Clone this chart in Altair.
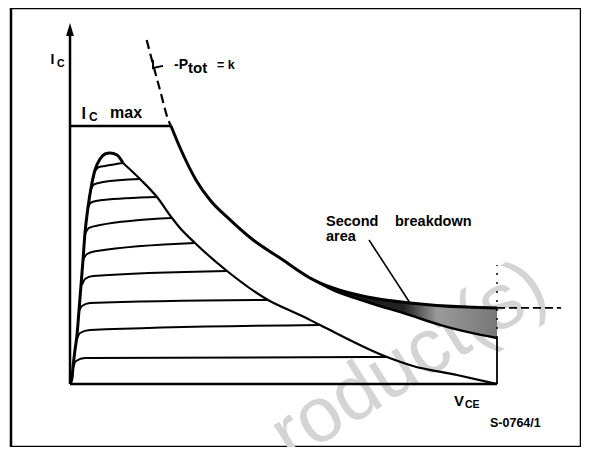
import altair as alt
import pandas as pd

# Schematic units: V_CE axis end = 100, I_C max = 100
# Power-dissipation limit (P_tot = k), solid part
ptot_v = [23.65, 26.0, 29.5, 32.8, 37.5, 42.9, 49.2, 56.2, 61.6, 69.6, 79.6, 93.0, 100.0]
ptot_i = [100.0, 90.7, 79.1, 71.3, 63.6, 55.8, 48.8, 41.1, 37.2, 33.7, 31.4, 29.8, 29.5]
# P_tot = k continued above I_C max (dashed)
ptot_ext_v = [17.96, 19.37, 21.08, 23.02, 23.65]
ptot_ext_i = [133.3, 124.4, 113.95, 102.3, 100.0]
# second breakdown band
sb_v = [56.2, 61.6, 69.6, 79.6, 86.65, 93.0, 100.0]
sb_upper = [41.1, 37.2, 33.7, 31.4, 30.5, 29.8, 29.5]
sb_lower = [41.1, 36.4, 31.8, 26.7, 22.9, 20.2, 17.8]
# left (saturation) envelope up to the peak
env_left_v = [0, 0.47, 0.70, 1.17, 1.64, 2.11, 2.58, 3.04, 3.51, 4.22, 4.92, 5.85, 7.03, 8.20, 9.37, 11.0, 12.41]
env_left_i = [0, 2.33, 6.59, 13.18, 18.99, 28.68, 38.37, 48.06, 58.53, 68.60, 75.97, 82.95, 87.21, 89.15, 89.53, 88.76, 85.66]
# right envelope of the output characteristics
env_right_v = [12.41, 16.39, 20.37, 23.89, 25.76, 29.27, 36.77, 46.37, 53.86, 58.55, 74.24, 80.33, 90.63, 100.0]
env_right_i = [85.66, 79.46, 72.48, 64.34, 60.47, 54.65, 43.80, 32.56, 26.74, 22.87, 10.47, 6.98, 3.49, 0.0]
# output characteristics (one list per base current)
char_v = [
    [5.85, 6.56, 8.20, 12.41],
    [4.92, 5.62, 7.73, 16.39],
    [4.22, 4.92, 7.73, 20.37],
    [3.51, 4.45, 7.03, 23.89],
    [3.04, 3.98, 6.32, 29.27],
    [2.81, 3.51, 5.39, 36.77],
    [2.11, 2.81, 4.68, 46.37],
    [1.64, 2.34, 4.68, 58.55],
    [0.70, 1.41, 3.51, 74.24],
]
char_i = [
    [82.56, 83.91, 84.50, 85.66],
    [75.58, 77.33, 78.29, 79.46],
    [68.22, 70.35, 71.32, 72.48],
    [58.14, 60.47, 61.63, 64.34],
    [48.06, 50.39, 51.55, 54.65],
    [38.37, 40.70, 41.86, 43.80],
    [28.29, 30.23, 31.40, 32.56],
    [17.44, 19.77, 20.93, 22.87],
    [6.20, 8.91, 10.08, 10.47],
]
# axes and limits
yaxis_v = [0, 0]
yaxis_i = [0, 137.0]
arrow_v = [0]
arrow_i = [137.4]
xaxis_v = [0, 100]
xaxis_i = [0, 0]
icmax_v = [0, 23.65]
icmax_i = [100, 100]
vmax_solid_v = [100, 100]
vmax_solid_i = [0, 17.8]
vmax_dash_v = [100, 100]
vmax_dash_i = [17.8, 46.1]
sb_ext_v = [100, 115.0]
sb_ext_i = [29.5, 29.5]
ptot_leader_v = [19.44, 19.44, 21.78]
ptot_leader_i = [125.6, 122.5, 123.3]
sb_leader_v = [70.02, 79.63]
sb_leader_i = [55.81, 31.40]
watermark = ["roduct(s)"]

XS = alt.Scale(domain=[-13.82, 119.67], nice=False, zero=False)
YS = alt.Scale(domain=[-24.42, 145.74], nice=False, zero=False)
X = alt.X("V:Q", scale=XS, axis=None)
Y = alt.Y("I:Q", scale=YS, axis=None)


def frame(v, i):
    return pd.DataFrame({"V": v, "I": i, "o": list(range(len(v)))})


def line(v, i, width, dash=None, interp="linear"):
    kw = dict(color="black", strokeWidth=width, interpolate=interp, strokeCap="butt")
    if dash:
        kw["strokeDash"] = dash
    return alt.Chart(frame(v, i)).mark_line(**kw).encode(x=X, y=Y, order="o:Q")


rows = []
for k, (vs, is_) in enumerate(zip(char_v, char_i)):
    for j, (a, b) in enumerate(zip(vs, is_)):
        rows.append({"V": a, "I": b, "curve": k, "o": j})
chars = alt.Chart(pd.DataFrame(rows)).mark_line(
    color="black", strokeWidth=2, interpolate="monotone"
).encode(x=X, y=Y, detail="curve:N", order="o:Q")

band_df = pd.DataFrame({"V": sb_v, "up": sb_upper, "lo": sb_lower})
grad = alt.Gradient(
    gradient="linear",
    stops=[
        alt.GradientStop(color="#111111", offset=0),
        alt.GradientStop(color="#222222", offset=0.5),
        alt.GradientStop(color="#9a9a9a", offset=0.68),
        alt.GradientStop(color="#777777", offset=1),
    ],
    x1=0, x2=1, y1=0, y2=0,
)
band = alt.Chart(band_df).mark_area(color=grad, interpolate="monotone").encode(
    x=X, y=alt.Y("up:Q", scale=YS, axis=None), y2="lo:Q"
)

arrow = alt.Chart(frame(arrow_v, arrow_i)).mark_point(
    shape="M0,-1L0.6,1L-0.6,1Z", size=169, filled=True, color="black", opacity=1
).encode(x=X, y=Y)


def txt(s, x, y, size, **kw):
    return alt.Chart(pd.DataFrame({"t": [s]})).mark_text(
        align="left", baseline="alphabetic", font="Liberation Sans", fontWeight="bold",
        fontSize=size, color="black", **kw
    ).encode(text="t:N", x=alt.value(x), y=alt.value(y))


wm = alt.Chart(pd.DataFrame({"t": watermark})).mark_text(
    align="right", baseline="alphabetic", font="Liberation Sans", fontSize=78,
    angle=328, color="#d4d4d4"
).encode(text="t:N", x=alt.value(541), y=alt.value(292))

texts = [
    txt("I", 39.5, 56, 14),
    txt("C", 46, 58.7, 10.5),
    txt("I", 70.5, 111.3, 16),
    txt("C", 78, 112.7, 12),
    txt("max", 99, 110.3, 16),
    txt("-P", 163, 60.7, 14),
    txt("tot", 177, 65.3, 15),
    txt("= k", 206, 61, 12.5),
    txt("Second\narea", 315, 218, 14.5, lineBreak="\n", lineHeight=15),
    txt("breakdown", 384, 218, 14.5),
    txt("V", 443, 398, 15),
    txt("CE", 454, 400, 10.5),
    txt("S-0764/1", 479, 418.7, 12.5),
]

layers = [
    wm,
    band,
    chars,
    line(env_left_v, env_left_i, 3, interp="monotone"),
    line(env_right_v, env_right_i, 2.2, interp="monotone"),
    line(ptot_v, ptot_i, 3, interp="monotone"),
    line(ptot_ext_v, ptot_ext_i, 2.2, dash=[9, 5], interp="monotone"),
    line(sb_v, sb_lower, 2.5, interp="monotone"),
    line(yaxis_v, yaxis_i, 2.5),
    arrow,
    line(xaxis_v, xaxis_i, 2.5),
    line(icmax_v, icmax_i, 2.5),
    line(vmax_solid_v, vmax_solid_i, 1.8),
    line(vmax_dash_v, vmax_dash_i, 1.5, dash=[2, 7]),
    line(sb_ext_v, sb_ext_i, 1.8, dash=[8, 4]),
    line(ptot_leader_v, ptot_leader_i, 2),
    line(sb_leader_v, sb_leader_i, 1.6),
] + texts

chart = alt.layer(*layers).properties(
    width=570, height=439,
    autosize=alt.AutoSizeParams(type="none"),
    padding={"left": 3, "top": 0, "right": 0, "bottom": 0},
    background="white",
).configure_view(stroke="black", strokeWidth=2.5)

chart.save("out.html", embed_options={"renderer": "svg", "actions": False})
